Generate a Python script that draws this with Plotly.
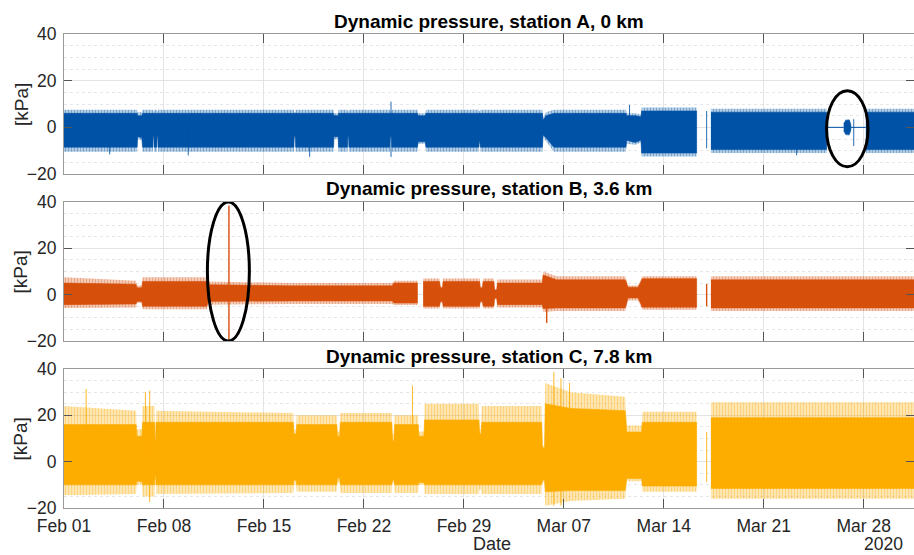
import pandas as pd
import plotly.graph_objects as go

# ---------------------------------------------------------------------------
# Envelope of each pressure record (kPa), sampled at change points.
# Days are counted from 2020-02-01 00:00; None marks a data gap.
# "top"/"bot" bound the dense body of the signal, "peak"/"trough" bound its
# spiky outer fringe.
# ---------------------------------------------------------------------------
A_day = [0.0, 5.12, 5.15, 5.45, 5.5, 6.22, 6.24, 6.29, 6.31, 6.5, 6.52, 6.57, 6.59,
         16.1, 16.12, 16.2, 16.22, 18.88, 18.9, 19.2, 19.22, 19.85, 19.87, 19.93, 19.95,
         22.82, 22.84, 22.93, 22.95, 24.75, 24.8, 25.3, 25.35, 29.05, 29.07, 29.13, 29.15,
         33.5, 33.55, 33.75, 34.3, 39.35, 39.4, 40.0, 40.4, 40.45, 44.3,
         None, 45.3, 53.4,
         None, 54.6, 54.75, 55.0, 55.1,
         None, 56.15, 59.6]
A_top = [6, 6, 5, 5, 6, 6, 6, 6, 6, 6, 6, 6, 6,
         6, 6, 6, 6, 6, 5, 5, 6, 6, 6, 6, 6,
         6, 6, 6, 6, 6, 5, 5, 6, 6, 6, 6, 6,
         6, 3, 5, 6, 6, 5, 5, 4.5, 7, 7,
         None, 6.5, 6.5,
         None, 1.5, 3, 3, 1,
         None, 6.5, 6.5]
A_bot = [-8.5, -8.5, -4, -4.5, -8.5, -8.5, -4, -4, -8.5, -8.5, -4, -4, -8.5,
         -8.5, -4, -4, -8.5, -8.5, -4, -4, -8.5, -8.5, -4, -4, -8.5,
         -8.5, -4, -4, -8.5, -8.5, -6.2, -6.2, -8.5, -8.5, -6, -6, -8.5,
         -8.5, -3.3, -4.5, -8.5, -8.5, -5.5, -6.5, -5.5, -11, -11,
         None, -9.5, -9.5,
         None, -1.5, -3, -3, -1,
         None, -9.5, -9.5]
A_peak = [7.5, 7.5, 6.5, 6.5, 7.5, 7.5, 7, 7, 7.5, 7.5, 7, 7, 7.5,
          7.5, 6.5, 6.5, 7.5, 7.5, 6, 6, 7.5, 7.5, 7, 7, 7.5,
          7.5, 7, 7, 7.5, 7.5, 6, 6, 7.5, 7.5, 7, 7, 7.5,
          7.5, 4, 6.5, 7.5, 7.5, 6, 6, 5.5, 8.5, 8.5,
          None, 8, 8,
          None, 2, 3.5, 3.5, 1.5,
          None, 8, 8]
A_trough = [-10.5, -10.5, -5, -5.5, -10.5, -10.5, -5, -5, -10.5, -10.5, -5, -5, -10.5,
            -10.5, -5, -5, -10.5, -10.5, -5, -5, -10.5, -10.5, -5, -5, -10.5,
            -10.5, -5, -5, -10.5, -10.5, -7, -7, -10.5, -10.5, -7, -7, -10.5,
            -10.5, -4, -6, -10.5, -10.5, -7, -7.5, -6.5, -12.5, -12.5,
            None, -11, -11,
            None, -2, -3.5, -3.5, -1.5,
            None, -11, -11]
# flat stretches (sensor reading ~0) and isolated spikes
A_flat_from = [53.4, 55.1]
A_flat_to = [54.6, 56.15]
A_spike_day = [3.2, 8.7, 17.2, 22.9, 39.6, 45.0, 51.3, 55.3]
A_spike_lo = [-11.6, -12.0, -12.6, -12.7, 0.0, -9.0, -12.0, -8.0]
A_spike_hi = [0.0, 0.0, 0.0, 11.0, 9.6, 7.0, 0.0, 3.5]

B_day = [0.0, 4.0, 5.05, 5.1, 5.45, 5.5, 10.0, 10.1, 16.0, 23.0, 23.1, 24.75,
         None, 25.15, 26.3, 26.35, 26.5, 26.55, 29.1, 29.15, 29.3, 29.35, 30.1, 30.15,
         30.3, 30.35, 33.5, 33.55, 34.5, 39.3, 39.5, 40.2, 40.5, 44.3,
         None, 45.3, 59.6]
B_top = [5.0, 4.5, 4.5, 3, 3, 5.7, 5.7, 4.3, 3.8, 3.8, 5, 5,
         None, 5.7, 5.7, 3, 3, 5.7, 5.7, 3, 3, 5.7, 5.7, 2,
         2, 5, 5, 8.5, 6.4, 6.4, 3.2, 3.2, 6.9, 6.9,
         None, 6.4, 6.4]
B_bot = [-4.3, -4.0, -4.0, -3, -3, -5, -5, -2.9, -2.7, -2.7, -3.6, -3.6,
         None, -5, -5, -3, -3, -5, -5, -3, -3, -5, -5, -1.5,
         -1.5, -4.3, -4.3, -6, -5.7, -5.7, -1.4, -1.4, -5.4, -5.4,
         None, -5.7, -5.7]
B_peak = [7.5, 6.5, 6, 4, 4, 7.5, 7.5, 5.7, 5, 5, 6, 6,
          None, 7, 7, 3.5, 3.5, 7, 7, 3.5, 3.5, 7, 7, 2.5,
          2.5, 6.5, 6.5, 10, 8, 8, 4, 4, 8, 8,
          None, 7.9, 7.9]
B_trough = [-5.7, -5.5, -5.5, -3.5, -3.5, -6.3, -6.3, -4.3, -4, -4, -4.5, -4.5,
            None, -6, -6, -3.5, -3.5, -6, -6, -3.5, -3.5, -6, -6, -2,
            -2, -5.5, -5.5, -7.5, -7, -7, -2.5, -2.5, -6.5, -6.5,
            None, -7.1, -7.1]
B_spike_day = [11.55, 33.8, 45.0]
B_spike_lo = [-19.5, -12.2, -5.0]
B_spike_hi = [38.5, 0.0, 4.6]

C_day = [0.0, 5.05, 5.1, 5.45, 5.5, 6.35, 6.38, 6.42, 6.45, 16.05, 16.1, 16.25, 16.3,
         19.1, 19.15, 19.3, 19.35, 22.95, 23.0, 23.1, 23.15, 24.8, 24.85, 25.2, 25.25,
         29.05, 29.1, 29.2, 29.25, 33.45, 33.5, 33.65, 33.7, 35.5, 39.3, 39.4, 40.45,
         40.5, 44.3,
         None, 45.3, 59.6]
C_top = [16, 16, 11, 11, 17, 17, 9, 9, 17, 17, 12, 12, 16,
         16, 11, 11, 17, 17, 9, 9, 16, 16, 11, 11, 18,
         18, 12, 12, 17, 17, 6, 6, 25, 23, 22, 12.8, 12.8,
         17, 17,
         None, 19, 19]
C_bot = [-10, -10, -8.5, -8.5, -10, -10, -6, -6, -10, -10, -8, -8, -10,
         -10, -7, -7, -10, -10, -8, -8, -10, -10, -9, -9, -10,
         -10, -10, -10, -10, -10, -8, -8, -13, -12.5, -12.5, -7.3, -7.3,
         -10.5, -10.5,
         None, -11.6, -11.6]
C_peak = [24, 22, 14, 14, 24, 24, 10, 10, 22, 21, 14, 14, 20,
          20, 13, 13, 21, 21, 12, 12, 20, 20, 13, 13, 25,
          25, 14, 14, 24, 24, 7, 7, 34, 30, 28, 15.6, 15.6,
          21.5, 21.5,
          None, 25.7, 25.7]
C_trough = [-14.5, -14, -10, -10, -15, -15, -7, -7, -14, -13.5, -10, -10, -13,
            -13, -9, -9, -13.5, -13.5, -9, -9, -13.5, -13.5, -10, -10, -14,
            -14, -12, -12, -14, -14, -9, -9, -19, -17, -16, -8.5, -8.5,
            -13, -13,
            None, -16, -16]
C_spike_day = [1.55, 5.7, 6.0, 24.4, 34.3, 34.8, 35.4, 45.0]
C_spike_lo = [0.0, 0.0, -17.4, 0.0, -19.0, -19.0, 0.0, -8.8]
C_spike_hi = [31.4, 30.0, 30.7, 32.9, 38.7, 36.0, 34.0, 12.8]

# weekly date ticks
tick_days = [0, 7, 14, 21, 28, 35, 42, 49, 56]
tick_text = ["Feb 01", "Feb 08", "Feb 15", "Feb 22", "Feb 29",
             "Mar 07", "Mar 14", "Mar 21", "Mar 28"]

titles = ["Dynamic pressure, station A, 0 km",
          "Dynamic pressure, station B, 3.6 km",
          "Dynamic pressure, station C, 7.8 km"]

START = pd.Timestamp("2020-02-01")
X_END_DAY = 59.52

BLUE = "#0052A6"
ORANGE = "#D6500C"
YELLOW = "#FDAC00"
FONT = "Liberation Sans, Arial, Helvetica, sans-serif"


def t(d):
    return (START + pd.Timedelta(days=d)).strftime("%Y-%m-%d %H:%M:%S")


def band(day, hi, lo):
    """Closed polygons (one per gap-free run) between an upper and lower bound."""
    xs, ys, run = [], [], []
    for i, d in enumerate(list(day) + [None]):
        if d is None:
            if run:
                xs += [t(day[k]) for k in run] + [t(day[k]) for k in reversed(run)] + [None]
                ys += [hi[k] for k in run] + [lo[k] for k in reversed(run)] + [None]
            run = []
        else:
            run.append(i)
    return xs, ys


def vlines(days, lo, hi):
    xs, ys = [], []
    for d, a, b in zip(days, lo, hi):
        xs += [t(d), t(d), None]
        ys += [a, b, None]
    return xs, ys


def hsegs(d0, d1, level=0.0):
    xs, ys = [], []
    for a, b in zip(d0, d1):
        xs += [t(a), t(b), None]
        ys += [level, level, None]
    return xs, ys


def rgba(hexcol, a):
    h = hexcol.lstrip("#")
    r, g, b = int(h[0:2], 16), int(h[2:4], 16), int(h[4:6], 16)
    return f"rgba({r},{g},{b},{a})"


fig = go.Figure()

stations = [
    (A_day, A_top, A_bot, A_peak, A_trough, A_spike_day, A_spike_lo, A_spike_hi, BLUE),
    (B_day, B_top, B_bot, B_peak, B_trough, B_spike_day, B_spike_lo, B_spike_hi, ORANGE),
    (C_day, C_top, C_bot, C_peak, C_trough, C_spike_day, C_spike_lo, C_spike_hi, YELLOW),
]

for n, (day, top, bot, peak, trough, sd, slo, shi, col) in enumerate(stations, start=1):
    xa, ya = ("x", "y") if n == 1 else (f"x{n}", f"y{n}")
    # spiky fringe: vertical hatching over a pale tint
    fx, fy = band(day, peak, trough)
    fig.add_trace(go.Scatter(x=fx, y=fy, fill="toself", fillcolor=rgba(col, 0.25),
                             fillpattern=dict(shape="|", size=3, solidity=0.45,
                                              fgcolor=rgba(col, 0.7),
                                              bgcolor=rgba(col, 0.25)),
                             mode="lines", line=dict(width=0), hoverinfo="skip",
                             showlegend=False, xaxis=xa, yaxis=ya))
    cx, cy = band(day, top, bot)
    fig.add_trace(go.Scatter(x=cx, y=cy, fill="toself", fillcolor=col,
                             mode="lines", line=dict(width=0.6, color=col), hoverinfo="skip",
                             showlegend=False, xaxis=xa, yaxis=ya))
    vx, vy = vlines(sd, slo, shi)
    fig.add_trace(go.Scatter(x=vx, y=vy, mode="lines",
                             line=dict(width=1.4 if n == 2 else 1,
                                       color=col if n == 2 else rgba(col, 0.85)),
                             hoverinfo="skip", showlegend=False, xaxis=xa, yaxis=ya))
    if n == 1:
        zx, zy = hsegs(A_flat_from, A_flat_to)
        fig.add_trace(go.Scatter(x=zx, y=zy, mode="lines", line=dict(width=1, color=col),
                                 hoverinfo="skip", showlegend=False, xaxis=xa, yaxis=ya))

# panel geometry (paper fractions of the plot area)
domains = [[0.7046, 1.0], [0.3523, 0.6456], [0.0, 0.2932]]
title_y = [1.0274, 0.673, 0.3186]
label_y = [0.8523, 0.4989, 0.1466]

grid = "#e3e3e3"
axis_line = "#9a9a9a"
tick_col = "#262626"

layout = dict(
    width=914, height=555,
    margin=dict(l=64, r=0, t=34, b=47),
    paper_bgcolor="white", plot_bgcolor="white",
    font=dict(family=FONT, color=tick_col),
    showlegend=False,
)
for n in (1, 2, 3):
    xk = "xaxis" if n == 1 else f"xaxis{n}"
    yk = "yaxis" if n == 1 else f"yaxis{n}"
    layout[xk] = dict(
        domain=[0, 1], anchor="y" if n == 1 else f"y{n}",
        range=[t(0), t(X_END_DAY)], type="date",
        tickvals=[t(d) for d in tick_days],
        ticktext=tick_text if n == 3 else [""] * len(tick_days),
        showticklabels=(n == 3),
        ticks="inside", ticklen=9, tickcolor="#555", tickwidth=1,
        showline=True, linecolor=axis_line, linewidth=1, mirror="ticks",
        showgrid=True, gridcolor=grid, gridwidth=1, zeroline=False,
        tickfont=dict(size=17.5, color=tick_col, family=FONT),
        ticklabelstandoff=2,
    )
    if n != 1:
        layout[xk]["matches"] = "x"
    layout[yk] = dict(
        domain=domains[n - 1], anchor="x" if n == 1 else f"x{n}",
        range=[-20, 40], tickvals=[-20, 0, 20, 40],
        ticks="inside", ticklen=8, tickcolor="#555", tickwidth=1,
        showline=True, linecolor=axis_line, linewidth=1, mirror="ticks",
        showgrid=True, gridcolor=grid, gridwidth=1, zeroline=False,
        minor=dict(dtick=5, showgrid=True, gridcolor="#e6e6e6", griddash="dot", ticks=""),
        tickfont=dict(size=17.5, color=tick_col, family=FONT),
        ticklabelstandoff=3,
    )

annotations = []
for n in range(3):
    annotations.append(dict(text=f"<b>{titles[n]}</b>", x=0.5, y=title_y[n],
                            xref="paper", yref="paper", showarrow=False,
                            xanchor="center", yanchor="middle",
                            font=dict(size=19, color="black", family=FONT)))
    annotations.append(dict(text="[kPa]", x=-0.0506, y=label_y[n], textangle=-90,
                            xref="paper", yref="paper", showarrow=False,
                            xanchor="center", yanchor="middle",
                            font=dict(size=19, color=tick_col, family=FONT)))
annotations.append(dict(text="Date", x=0.5035, y=-0.0759, xref="paper", yref="paper",
                        showarrow=False, xanchor="center", yanchor="middle",
                        font=dict(size=18, color=tick_col, family=FONT)))
annotations.append(dict(text="2020", x=0.9647, y=-0.0759, xref="paper", yref="paper",
                        showarrow=False, xanchor="center", yanchor="middle",
                        font=dict(size=17.5, color=tick_col, family=FONT)))
layout["annotations"] = annotations

# highlighted events
layout["shapes"] = [
    dict(type="circle", xref="x", yref="y", x0=t(53.4), x1=t(56.3), y0=-16.9, y1=15.7,
         line=dict(color="black", width=3)),
    dict(type="circle", xref="x2", yref="y2", x0=t(10.04), x1=t(12.98), y0=-20, y1=40,
         line=dict(color="black", width=3)),
]

fig.update_layout(**layout)
fig.write_html("out.html")
